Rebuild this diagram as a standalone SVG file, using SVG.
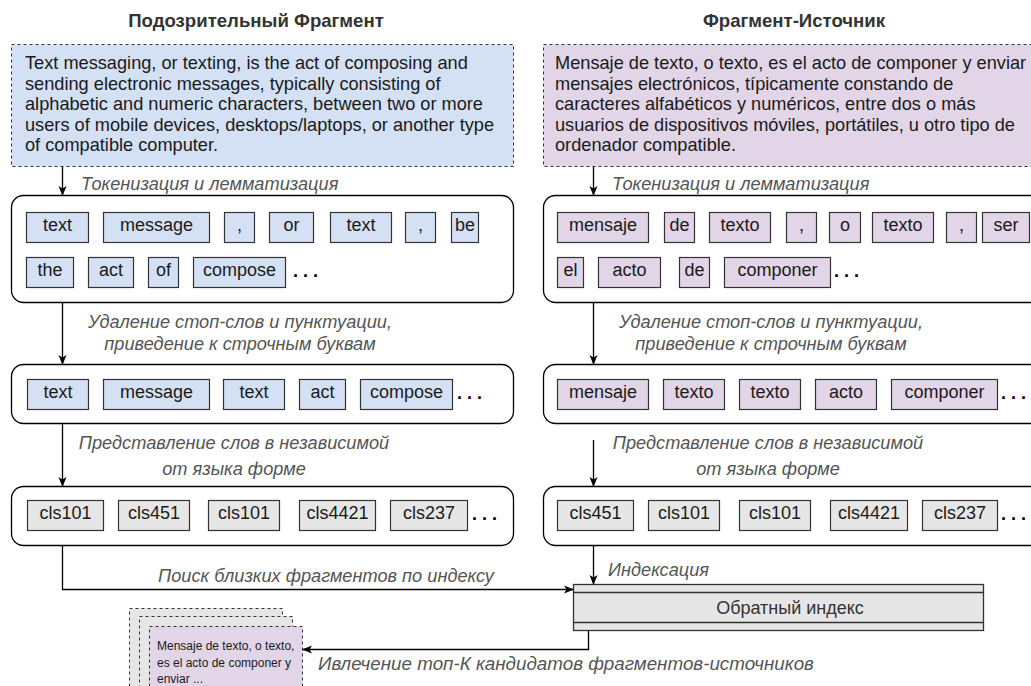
<svg xmlns="http://www.w3.org/2000/svg" width="1031" height="686" viewBox="0 0 1031 686">
<defs>
<marker id="arr" viewBox="0 0 10 10" refX="9" refY="5" markerWidth="10" markerHeight="10" markerUnits="userSpaceOnUse" orient="auto">
<path d="M0,1 L10,5 L0,9 L2.5,5 Z" fill="#000"/>
</marker>
<style>
.title{font-family:"Liberation Sans",Arial,sans-serif;font-size:18.6px;font-weight:bold;fill:#333;text-anchor:middle}
.para{font-family:"Liberation Sans",Arial,sans-serif;font-size:18.2px;fill:#1a1a1a}
.lbl{font-family:"Liberation Sans",Arial,sans-serif;font-size:18.2px;font-style:italic;fill:#555}
.tk{font-family:"Liberation Sans",Arial,sans-serif;font-size:18px;fill:#1a1a1a;text-anchor:middle}
.dots{font-family:"Liberation Sans",Arial,sans-serif;font-size:18px;font-weight:bold;fill:#000}
.small{font-family:"Liberation Sans",Arial,sans-serif;font-size:12px;fill:#1a1a1a}
.dash{stroke:#333;stroke-width:1;stroke-dasharray:3 3}
.blue{fill:#d4e1f5}
.purple{fill:#e1d5e7}
.gray{fill:#e6e6e6}
.tok{stroke:#333;stroke-width:1.2}
.rbox{fill:#fff;stroke:#000;stroke-width:1.3}
.conn{fill:none;stroke:#000;stroke-width:1.3}
</style>
</defs>
<rect width="1031" height="686" fill="#fff"/>

<text class="title" x="256" y="27">Подозрительный Фрагмент</text>
<text class="title" x="794" y="27">Фрагмент-Источник</text>

<g id="suspicious-text">
<rect class="dash blue" x="11.5" y="44.5" width="502" height="122"/>
<text class="para" x="25" y="69">Text messaging, or texting, is the act of composing and</text>
<text class="para" x="25" y="89.5">sending electronic messages, typically consisting of</text>
<text class="para" x="25" y="110">alphabetic and numeric characters, between two or more</text>
<text class="para" x="25" y="130.5">users of mobile devices, desktops/laptops, or another type</text>
<text class="para" x="25" y="151">of compatible computer.</text>
</g>

<g id="source-text">
<rect class="dash purple" x="543.5" y="44.5" width="502" height="122"/>
<text class="para" x="555" y="69">Mensaje de texto, o texto, es el acto de componer y enviar</text>
<text class="para" x="555" y="89.5">mensajes electrónicos, típicamente constando de</text>
<text class="para" x="555" y="110">caracteres alfabéticos y numéricos, entre dos o más</text>
<text class="para" x="555" y="130.5">usuarios de dispositivos móviles, portátiles, u otro tipo de</text>
<text class="para" x="555" y="151">ordenador compatible.</text>
</g>

<g id="left-tokens">
<rect class="rbox" x="11.5" y="195.5" width="502" height="107" rx="12"/>
<g class="tok blue">
<rect x="26.5" y="212.5" width="62" height="30"/>
<rect x="103.5" y="212.5" width="106" height="30"/>
<rect x="224.5" y="212.5" width="30" height="30"/>
<rect x="269.5" y="212.5" width="44" height="30"/>
<rect x="330.5" y="212.5" width="61" height="30"/>
<rect x="405.5" y="212.5" width="30" height="30"/>
<rect x="451.5" y="212.5" width="27" height="30"/>
<rect x="26.5" y="257.5" width="47" height="30"/>
<rect x="88.5" y="257.5" width="45" height="30"/>
<rect x="148.5" y="257.5" width="30" height="30"/>
<rect x="193.5" y="257.5" width="92" height="30"/>
</g>
<text class="tk" x="57.5" y="231">text</text>
<text class="tk" x="156.5" y="231">message</text>
<text class="tk" x="239.5" y="231">,</text>
<text class="tk" x="291.5" y="231">or</text>
<text class="tk" x="361" y="231">text</text>
<text class="tk" x="420.5" y="231">,</text>
<text class="tk" x="465" y="231">be</text>
<text class="tk" x="50" y="276">the</text>
<text class="tk" x="111" y="276">act</text>
<text class="tk" x="163.5" y="276">of</text>
<text class="tk" x="239.5" y="276">compose</text>
<text class="dots" x="293" y="277">. . .</text>
</g>

<g id="right-tokens">
<rect class="rbox" x="543.5" y="195.5" width="502" height="107" rx="12"/>
<g class="tok purple">
<rect x="557.5" y="212.5" width="91" height="30"/>
<rect x="664.5" y="212.5" width="30" height="30"/>
<rect x="709.5" y="212.5" width="61" height="30"/>
<rect x="786.5" y="212.5" width="30" height="30"/>
<rect x="829.5" y="212.5" width="31" height="30"/>
<rect x="872.5" y="212.5" width="61" height="30"/>
<rect x="946.5" y="212.5" width="30" height="30"/>
<rect x="982.5" y="212.5" width="47" height="30"/>
<rect x="557.5" y="257.5" width="26" height="30"/>
<rect x="598.5" y="257.5" width="62" height="30"/>
<rect x="679.5" y="257.5" width="30" height="30"/>
<rect x="724.5" y="257.5" width="106" height="30"/>
</g>
<text class="tk" x="603" y="231">mensaje</text>
<text class="tk" x="679.5" y="231">de</text>
<text class="tk" x="740" y="231">texto</text>
<text class="tk" x="801.5" y="231">,</text>
<text class="tk" x="845" y="231">o</text>
<text class="tk" x="903" y="231">texto</text>
<text class="tk" x="961.5" y="231">,</text>
<text class="tk" x="1006" y="231">ser</text>
<text class="tk" x="570.5" y="276">el</text>
<text class="tk" x="629.5" y="276">acto</text>
<text class="tk" x="694.5" y="276">de</text>
<text class="tk" x="777.5" y="276">componer</text>
<text class="dots" x="834" y="277">. . .</text>
</g>

<g id="left-lemmas">
<rect class="rbox" x="11.5" y="364.5" width="502" height="59" rx="12"/>
<g class="tok blue">
<rect x="27.5" y="379.5" width="61" height="30"/>
<rect x="103.5" y="379.5" width="106" height="30"/>
<rect x="223.5" y="379.5" width="61" height="30"/>
<rect x="299.5" y="379.5" width="46" height="30"/>
<rect x="360.5" y="379.5" width="92" height="30"/>
</g>
<text class="tk" x="58" y="398">text</text>
<text class="tk" x="156.5" y="398">message</text>
<text class="tk" x="254" y="398">text</text>
<text class="tk" x="322.5" y="398">act</text>
<text class="tk" x="406.5" y="398">compose</text>
<text class="dots" x="457" y="399">. . .</text>
</g>

<g id="right-lemmas">
<rect class="rbox" x="543.5" y="364.5" width="502" height="59" rx="12"/>
<g class="tok purple">
<rect x="557.5" y="379.5" width="91" height="30"/>
<rect x="663.5" y="379.5" width="61" height="30"/>
<rect x="739.5" y="379.5" width="61" height="30"/>
<rect x="815.5" y="379.5" width="61" height="30"/>
<rect x="891.5" y="379.5" width="106" height="30"/>
</g>
<text class="tk" x="603" y="398">mensaje</text>
<text class="tk" x="694" y="398">texto</text>
<text class="tk" x="770" y="398">texto</text>
<text class="tk" x="846" y="398">acto</text>
<text class="tk" x="944.5" y="398">componer</text>
<text class="dots" x="1001" y="399">. . .</text>
</g>

<g id="left-classes">
<rect class="rbox" x="11.5" y="486.5" width="502" height="59" rx="12"/>
<g class="tok gray">
<rect x="27.5" y="500.5" width="76" height="30"/>
<rect x="118.5" y="500.5" width="71" height="30"/>
<rect x="208.5" y="500.5" width="71" height="30"/>
<rect x="299.5" y="500.5" width="76" height="30"/>
<rect x="390.5" y="500.5" width="77" height="30"/>
</g>
<text class="tk" x="65.5" y="519">cls101</text>
<text class="tk" x="154" y="519">cls451</text>
<text class="tk" x="244" y="519">cls101</text>
<text class="tk" x="337.5" y="519">cls4421</text>
<text class="tk" x="429" y="519">cls237</text>
<text class="dots" x="472" y="520">. . .</text>
</g>

<g id="right-classes">
<rect class="rbox" x="543.5" y="486.5" width="502" height="59" rx="12"/>
<g class="tok gray">
<rect x="557.5" y="500.5" width="76" height="30"/>
<rect x="648.5" y="500.5" width="71" height="30"/>
<rect x="739.5" y="500.5" width="71" height="30"/>
<rect x="830.5" y="500.5" width="77" height="30"/>
<rect x="922.5" y="500.5" width="75" height="30"/>
</g>
<text class="tk" x="595.5" y="519">cls451</text>
<text class="tk" x="684" y="519">cls101</text>
<text class="tk" x="775" y="519">cls101</text>
<text class="tk" x="869" y="519">cls4421</text>
<text class="tk" x="960" y="519">cls237</text>
<text class="dots" x="1001" y="520">. . .</text>
</g>

<g id="inverted-index">
<rect x="573.5" y="584.5" width="410" height="46" fill="#e6e6e6" stroke="#333" stroke-width="1.3"/>
<line x1="573.5" y1="592.5" x2="983.5" y2="592.5" stroke="#333" stroke-width="1.3"/>
<line x1="573.5" y1="622.5" x2="983.5" y2="622.5" stroke="#333" stroke-width="1.3"/>
<text class="tk" x="790" y="614" style="fill:#333">Обратный индекс</text>
</g>

<g id="candidates">
<rect class="dash gray" x="129.5" y="608.5" width="153" height="90"/>
<rect class="dash gray" x="139.5" y="616.5" width="153" height="90"/>
<rect class="dash purple" x="149.5" y="626.5" width="153" height="90"/>
<text class="small" x="157" y="650">Mensaje de texto, o texto,</text>
<text class="small" x="157" y="667">es el acto de componer y</text>
<text class="small" x="157" y="683">enviar ...</text>
</g>

<g id="connectors">
<line class="conn" x1="62.5" y1="167" x2="62.5" y2="195" marker-end="url(#arr)"/>
<line class="conn" x1="593.5" y1="167" x2="593.5" y2="195" marker-end="url(#arr)"/>
<line class="conn" x1="62.5" y1="303" x2="62.5" y2="364" marker-end="url(#arr)"/>
<line class="conn" x1="593.5" y1="303" x2="593.5" y2="364" marker-end="url(#arr)"/>
<line class="conn" x1="62.5" y1="424" x2="62.5" y2="486" marker-end="url(#arr)"/>
<line class="conn" x1="593.5" y1="440" x2="593.5" y2="486" marker-end="url(#arr)"/>
<line class="conn" x1="593.5" y1="546" x2="593.5" y2="584" marker-end="url(#arr)"/>
<polyline class="conn" points="62.5,546 62.5,589.5 573,589.5" marker-end="url(#arr)"/>
<polyline class="conn" points="588.5,631 588.5,649.5 303,649.5" marker-end="url(#arr)"/>
<text class="lbl" x="81" y="190">Токенизация и лемматизация</text>
<text class="lbl" x="612" y="190">Токенизация и лемматизация</text>
<text class="lbl" x="240" y="328" text-anchor="middle">Удаление стоп-слов и пунктуации,</text>
<text class="lbl" x="240" y="350" text-anchor="middle">приведение к строчным буквам</text>
<text class="lbl" x="771" y="328" text-anchor="middle">Удаление стоп-слов и пунктуации,</text>
<text class="lbl" x="771" y="350" text-anchor="middle">приведение к строчным буквам</text>
<text class="lbl" x="234" y="449" text-anchor="middle">Представление слов в независимой</text>
<text class="lbl" x="234" y="475" text-anchor="middle">от языка форме</text>
<text class="lbl" x="768" y="449" text-anchor="middle">Представление слов в независимой</text>
<text class="lbl" x="768" y="475" text-anchor="middle">от языка форме</text>
<text class="lbl" x="326" y="582" text-anchor="middle">Поиск близких фрагментов по индексу</text>
<text class="lbl" x="608" y="576">Индексация</text>
<text class="lbl" x="318" y="670" style="font-size:18.8px">Ивлечение топ-К кандидатов фрагментов-источников</text>
</g>
</svg>
